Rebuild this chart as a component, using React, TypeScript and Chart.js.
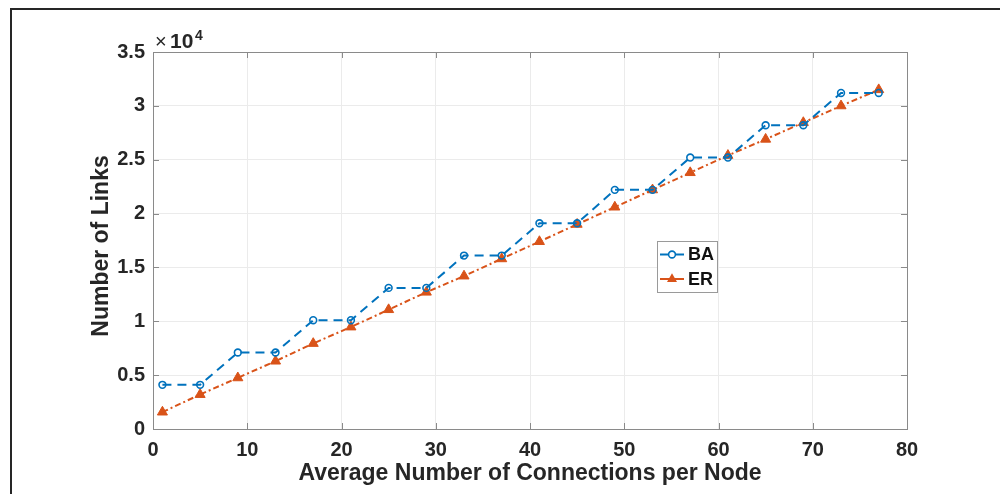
import React, { useEffect, useRef } from "react";
import { Chart, registerables } from "chart.js";

Chart.register(...registerables);

// Average degree per node (x) and resulting link counts for the two network models
const connections = [1, 5, 9, 13, 17, 21, 25, 29, 33, 37, 41, 45, 49, 53, 57, 61, 65, 69, 73, 77];
const baLinks = [4100, 4100, 7100, 7100, 10100, 10100, 13100, 13100, 16100, 16100, 19100, 19100, 22200, 22200, 25200, 25200, 28200, 28200, 31200, 31200];
const erLinks = [1570, 3200, 4750, 6300, 7940, 9470, 11080, 12700, 14200, 15800, 17400, 19000, 20600, 22200, 23800, 25400, 26900, 28450, 30000, 31500];

const xTickStep = 10;
const xRange = [0, 80];
const yTickStep = 5000;
const yRange = [0, 35000];
const yExponent = 4;

const seriesNames = ["BA", "ER"];
const seriesColors = ["#0072BD", "#D95319"];

const FONT = '"Liberation Sans", Arial, Helvetica, sans-serif';
const TEXT = "#262626";
const AXIS = "#8a8a8a";
const GRID = "#ebebeb";

// Box around the plot with inward tick marks, exponent label, y-title and legend
const decorations = {
  id: "decorations",
  afterDraw(chart: any) {
    const { ctx, chartArea: a, scales } = chart;
    ctx.save();

    // axes box
    ctx.strokeStyle = AXIS;
    ctx.lineWidth = 1;
    ctx.setLineDash([]);
    ctx.strokeRect(Math.round(a.left) + 0.5, Math.round(a.top) + 0.5, Math.round(a.right - a.left), Math.round(a.bottom - a.top));

    // inward ticks
    const tl = 6;
    ctx.beginPath();
    scales.x.ticks.forEach((t: any) => {
      const px = Math.round(scales.x.getPixelForValue(t.value)) + 0.5;
      ctx.moveTo(px, a.bottom);
      ctx.lineTo(px, a.bottom - tl);
      ctx.moveTo(px, a.top);
      ctx.lineTo(px, a.top + tl);
    });
    scales.y.ticks.forEach((t: any) => {
      const py = Math.round(scales.y.getPixelForValue(t.value)) + 0.5;
      ctx.moveTo(a.left, py);
      ctx.lineTo(a.left + tl, py);
      ctx.moveTo(a.right, py);
      ctx.lineTo(a.right - tl, py);
    });
    ctx.stroke();

    // exponent label "×10^4"
    ctx.fillStyle = TEXT;
    ctx.textBaseline = "alphabetic";
    ctx.textAlign = "left";
    ctx.font = `normal 20px ${FONT}`;
    ctx.fillText("\u00d7", 155, 48);
    ctx.font = `bold 21px ${FONT}`;
    ctx.fillText("10", 170, 48);
    ctx.font = `bold 14px ${FONT}`;
    ctx.fillText(String(yExponent), 195, 40);

    // y axis title
    ctx.save();
    ctx.translate(101.5, 246);
    ctx.rotate(-Math.PI / 2);
    ctx.font = `bold 23px ${FONT}`;
    ctx.textAlign = "center";
    ctx.textBaseline = "middle";
    ctx.fillText("Number of Links", 0, 0);
    ctx.restore();

    // legend
    const lx = 657, ly = 241, lw = 60, lh = 51;
    ctx.fillStyle = "#ffffff";
    ctx.fillRect(lx, ly, lw, lh);
    ctx.strokeStyle = "#9a9a9a";
    ctx.lineWidth = 1;
    ctx.strokeRect(lx + 0.5, ly + 0.5, lw, lh);
    const rows = [254.5, 279];
    chart.data.datasets.forEach((ds: any, i: number) => {
      const y = rows[i];
      ctx.strokeStyle = ds.borderColor;
      ctx.lineWidth = 2;
      ctx.beginPath();
      ctx.moveTo(660, y);
      ctx.lineTo(684, y);
      ctx.stroke();
      if (ds.pointStyle === "triangle") {
        const r = ds.pointRadius;
        ctx.fillStyle = ds.pointBackgroundColor;
        ctx.beginPath();
        ctx.moveTo(672, y - r);
        ctx.lineTo(672 + r * 0.866, y + r * 0.5);
        ctx.lineTo(672 - r * 0.866, y + r * 0.5);
        ctx.closePath();
        ctx.fill();
      } else {
        ctx.fillStyle = "#ffffff";
        ctx.lineWidth = ds.pointBorderWidth;
        ctx.beginPath();
        ctx.arc(672, y, ds.pointRadius, 0, Math.PI * 2);
        ctx.fill();
        ctx.stroke();
      }
      ctx.fillStyle = "#111111";
      ctx.font = `bold 18px ${FONT}`;
      ctx.textAlign = "left";
      ctx.textBaseline = "middle";
      ctx.fillText(ds.label, 688, y + 1);
    });

    ctx.restore();
  },
};

export default function App() {
  const canvasRef = useRef<HTMLCanvasElement | null>(null);

  useEffect(() => {
    const canvas = canvasRef.current;
    if (!canvas) return;

    const chart = new Chart(canvas, {
      type: "line",
      data: {
        datasets: [
          {
            label: seriesNames[0],
            data: connections.map((x, i) => ({ x, y: baLinks[i] })),
            borderColor: seriesColors[0],
            borderWidth: 2,
            borderDash: [9, 6],
            pointStyle: "circle",
            pointRadius: 3.4,
            pointBorderWidth: 1.6,
            pointBorderColor: seriesColors[0],
            pointBackgroundColor: "rgba(255,255,255,0)",
            tension: 0,
            fill: false,
          },
          {
            label: seriesNames[1],
            data: connections.map((x, i) => ({ x, y: erLinks[i] })),
            borderColor: seriesColors[1],
            borderWidth: 2,
            borderDash: [6, 3, 2, 3],
            pointStyle: "triangle",
            pointRadius: 5.8,
            pointBorderWidth: 1,
            pointBorderColor: seriesColors[1],
            pointBackgroundColor: seriesColors[1],
            tension: 0,
            fill: false,
          },
        ],
      },
      options: {
        animation: false,
        responsive: false,
        devicePixelRatio: 1,
        layout: { padding: { left: 80, top: 52, right: 93, bottom: 0 } },
        plugins: {
          legend: { display: false },
          tooltip: { enabled: false },
        },
        scales: {
          x: {
            type: "linear",
            min: xRange[0],
            max: xRange[1],
            ticks: {
              stepSize: xTickStep,
              padding: 9,
              color: TEXT,
              maxRotation: 0,
              font: { family: FONT, size: 20, weight: "bold" },
            },
            grid: { color: GRID, drawTicks: false },
            border: { display: false },
            title: {
              display: true,
              text: "Average Number of Connections per Node",
              color: TEXT,
              font: { family: FONT, size: 23, weight: "bold" },
              padding: { top: 0, bottom: 7 },
            },
            afterFit: (s: any) => {
              s.height = 65;
            },
          },
          y: {
            type: "linear",
            min: yRange[0],
            max: yRange[1],
            ticks: {
              stepSize: yTickStep,
              padding: 8,
              color: TEXT,
              font: { family: FONT, size: 20, weight: "bold" },
              callback: (v: any) => String(Number(v) / Math.pow(10, yExponent)),
            },
            grid: { color: GRID, drawTicks: false },
            border: { display: false },
            afterFit: (s: any) => {
              s.width = 73;
            },
          },
        },
      },
      plugins: [decorations],
    });

    return () => chart.destroy();
  }, []);

  return (
    <div style={{ position: "fixed", left: 0, top: 0, width: 1000, height: 494, background: "#ffffff", overflow: "hidden" }}>
      <canvas ref={canvasRef} width={1000} height={494} style={{ position: "absolute", left: 0, top: 0, width: 1000, height: 494 }} />
      <div
        style={{
          position: "absolute",
          left: 10,
          top: 8,
          width: 1000,
          height: 500,
          borderTop: "2px solid #262626",
          borderLeft: "2px solid #262626",
          pointerEvents: "none",
        }}
      />
    </div>
  );
}
